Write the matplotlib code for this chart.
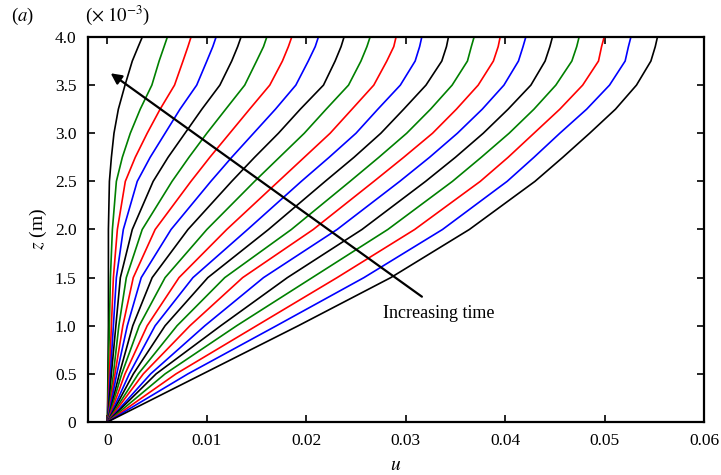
import numpy as np
import matplotlib
matplotlib.use("Agg")
import matplotlib.pyplot as plt
from matplotlib.ticker import FixedLocator, FixedFormatter

plt.rcParams['font.family'] = 'serif'
plt.rcParams['font.serif'] = ['Liberation Serif', 'DejaVu Serif']
plt.rcParams['mathtext.fontset'] = 'stix'

z_mm = [0, 0.5, 1.0, 1.5, 2.0, 2.5, 2.75, 3.0, 3.25, 3.5, 3.75, 3.9, 4.0]

# u at each height, one value per profile (21 profiles, earliest first)
u_z000 = [0.0] * 21
u_z050 = [0.00005, 0.0001, 0.0002, 0.0003, 0.0004, 0.0006, 0.00076, 0.00094, 0.0012, 0.00144,
          0.00177, 0.0022, 0.00261, 0.00311, 0.00361, 0.00435, 0.0049, 0.0058, 0.0069, 0.0081, 0.0096]
u_z100 = [0.0001, 0.0002, 0.0004, 0.0006, 0.00085, 0.00115, 0.00155, 0.002, 0.00255, 0.0032,
          0.004, 0.0048, 0.0058, 0.007, 0.0083, 0.0098, 0.0114, 0.013, 0.015, 0.017, 0.0192]
u_z150 = [0.0001, 0.0003, 0.0006, 0.0009, 0.0013, 0.0019, 0.0026, 0.0034, 0.0045, 0.0058,
          0.0072, 0.0086, 0.0101, 0.0118, 0.0136, 0.0157, 0.0181, 0.0206, 0.0231, 0.0258, 0.0285]
u_z200 = [0.0001, 0.0005, 0.001, 0.0016, 0.0025, 0.0035, 0.0048, 0.0064, 0.0081, 0.01,
          0.012, 0.0141, 0.0162, 0.0185, 0.0207, 0.0231, 0.0256, 0.0282, 0.0309, 0.0337, 0.0364]
u_z250 = [0.0002, 0.0009, 0.0018, 0.003, 0.0046, 0.0065, 0.0084, 0.0104, 0.0125, 0.0148,
          0.0172, 0.0195, 0.0219, 0.0244, 0.0268, 0.0294, 0.032, 0.0347, 0.0375, 0.0402, 0.043]
u_z275 = [0.0004, 0.0015, 0.0028, 0.0043, 0.0061, 0.0082, 0.0103, 0.0125, 0.0148, 0.0173,
          0.0198, 0.0223, 0.0248, 0.0273, 0.0298, 0.0324, 0.035, 0.0376, 0.0403, 0.0429, 0.0458]
u_z300 = [0.00066, 0.0023, 0.004, 0.0058, 0.0078, 0.01, 0.0123, 0.0147, 0.0172, 0.0198,
          0.0224, 0.025, 0.0275, 0.0301, 0.0327, 0.0352, 0.0378, 0.0404, 0.0429, 0.0455, 0.0485]
u_z325 = [0.0011, 0.0033, 0.0053, 0.0073, 0.0095, 0.0119, 0.0143, 0.0169, 0.0194, 0.022,
          0.0246, 0.0272, 0.0298, 0.0325, 0.0351, 0.0377, 0.0403, 0.0429, 0.0455, 0.0482, 0.0511]
u_z350 = [0.00177, 0.00447, 0.00675, 0.00898, 0.01131, 0.01381, 0.01633, 0.01895, 0.02173, 0.02425,
          0.02679, 0.02946, 0.03204, 0.03467, 0.03729, 0.03988, 0.04259, 0.0451, 0.0478, 0.0505, 0.05321]
u_z375 = [0.0025, 0.0052, 0.0076, 0.01, 0.0125, 0.015, 0.0176, 0.0202, 0.0229, 0.0255,
          0.0281, 0.03095, 0.03363, 0.03621, 0.03882, 0.04134, 0.04402, 0.04671, 0.04939, 0.05207, 0.05466]
u_z390 = [0.0031, 0.0057, 0.0081, 0.0106, 0.0131, 0.0157, 0.0182, 0.0209, 0.0235, 0.0261,
          0.0288, 0.0314, 0.0341, 0.0366, 0.0393, 0.0418, 0.0445, 0.0472, 0.0497, 0.0524, 0.0551]
u_z400 = [0.00351, 0.00603, 0.00841, 0.01093, 0.01344, 0.01603, 0.01854, 0.02122, 0.0238, 0.02642,
          0.02903, 0.03162, 0.0343, 0.03688, 0.0395, 0.04208, 0.04476, 0.04744, 0.04996, 0.05265, 0.05532]

line_colors = ['black', 'green', 'red', 'blue']

x_ticks = [0, 0.01, 0.02, 0.03, 0.04, 0.05, 0.06]
x_labels = ['0', '0.01', '0.02', '0.03', '0.04', '0.05', '0.06']
y_ticks = [0, 0.5, 1.0, 1.5, 2.0, 2.5, 3.0, 3.5, 4.0]
y_labels = ['0', '0.5', '1.0', '1.5', '2.0', '2.5', '3.0', '3.5', '4.0']

profiles = np.array([u_z000, u_z050, u_z100, u_z150, u_z200, u_z250, u_z275,
                     u_z300, u_z325, u_z350, u_z375, u_z390, u_z400]).T
z = np.array(z_mm) * 1e-3

fig = plt.figure(figsize=(7.21, 4.75), dpi=100)
ax = fig.add_axes([0.1214, 0.1116, 0.855, 0.8105])

for i, u in enumerate(profiles):
    ax.plot(u, z, color=line_colors[i % 4], lw=1.2, solid_joinstyle='round')

ax.set_xlim(-0.002, 0.06)
ax.set_ylim(0, 4.0e-3)

ax.xaxis.set_major_locator(FixedLocator(x_ticks))
ax.xaxis.set_major_formatter(FixedFormatter(x_labels))
ax.yaxis.set_major_locator(FixedLocator([v * 1e-3 for v in y_ticks]))
ax.yaxis.set_major_formatter(FixedFormatter(y_labels))
ax.tick_params(direction='in', length=5, width=1.2, top=True, right=True,
               labelsize=12.5, pad=8)
for sp in ax.spines.values():
    sp.set_linewidth(1.6)

ax.set_xlabel(r'$u$', fontsize=14, labelpad=6)
ax.set_ylabel(r'$z$ (m)', fontsize=14, labelpad=4)

fig.text(0.015, 0.955, r'($a$)', fontsize=13.5)
fig.text(0.118, 0.955, r'($\times\;10^{-3}$)', fontsize=13.5)

ax.annotate('', xy=(0.00033, 3.623e-3), xytext=(0.03163, 1.302e-3),
            arrowprops=dict(arrowstyle='-|>', color='black', lw=1.6,
                            mutation_scale=16, shrinkA=0, shrinkB=0))
ax.text(0.0277, 1.13e-3, 'Increasing time', fontsize=13, va='center', ha='left')

fig.savefig('out.png', dpi=100)
